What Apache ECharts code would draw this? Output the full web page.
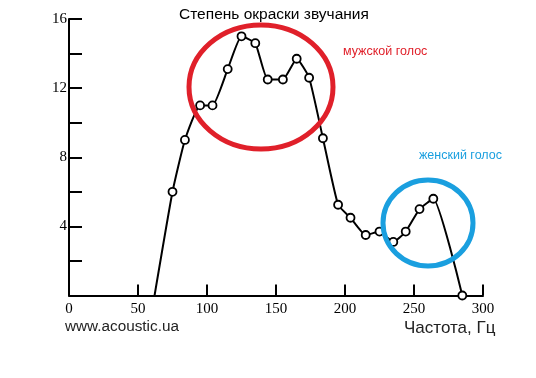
<!DOCTYPE html>
<html>
<head>
<meta charset="utf-8">
<script src="https://cdn.jsdelivr.net/npm/echarts@6/dist/echarts.min.js"></script>
<style>
  html, body { margin: 0; padding: 0; background: #fff; }
  #main { width: 536px; height: 378px; }
</style>
</head>
<body>
<div id="main"></div>
<script>
// frequency, Hz
var freq = [62, 75, 84, 95, 104, 115, 125, 135, 144, 155, 165, 174, 184, 195, 204, 215, 225, 235, 244, 254, 264, 285]
// colouring degree
var level = [0, 6, 9, 11, 11, 13.1, 15, 14.6, 12.5, 12.5, 13.7, 12.6, 9.1, 5.25, 4.5, 3.5, 3.7, 3.1, 3.7, 5, 5.6, 0]
var xTicks = [0, 50, 100, 150, 200, 250, 300]
var yLabels = [4, 8, 12, 16]

var points = freq.map(function (f, i) {
    var p = { value: [f, level[i]] }
    if (i == 0) p.symbol = 'none'   // line starts on the axis without a marker
    return p
})

var myChart = echarts.init(document.getElementById('main'))
myChart.setOption({
    animation: false,
    grid: { left: 69, top: 19, width: 414, height: 276.5 },
    xAxis: {
        type: 'value',
        min: xTicks[0],
        max: xTicks[xTicks.length - 1],
        interval: 50,
        axisLine: { show: true, lineStyle: { color: '#000', width: 2 } },
        axisTick: { show: true, inside: true, length: 11, lineStyle: { color: '#000', width: 2 } },
        axisLabel: { margin: 6, color: '#000', fontFamily: 'Liberation Serif', fontSize: 15 },
        splitLine: { show: false }
    },
    yAxis: {
        type: 'value',
        min: 0,
        max: 16,
        interval: 2,
        axisLine: { show: true, lineStyle: { color: '#000', width: 2 } },
        axisTick: { show: true, inside: true, length: 13, lineStyle: { color: '#000', width: 2 } },
        axisLabel: {
            margin: 2,
            color: '#000',
            fontFamily: 'Liberation Serif',
            fontSize: 15,
            formatter: function (v) { return yLabels.indexOf(v) >= 0 ? String(v) : '' }
        },
        splitLine: { show: false }
    },
    series: [{
        type: 'line',
        data: points,
        smooth: 0.15,
        symbol: 'circle',
        symbolSize: 8,
        itemStyle: { color: '#fff', borderColor: '#000', borderWidth: 1.8 },
        lineStyle: { color: '#000', width: 2 }
    }],
    graphic: [
        { type: 'text', left: 179, top: 7, style: { text: 'Степень окраски звучания', font: '15.5px "Liberation Sans"', fill: '#000' } },
        { type: 'text', left: 65, top: 319, style: { text: 'www.acoustic.ua', font: '15.3px "Liberation Sans"', fill: '#222' } },
        { type: 'text', left: 404, top: 320, style: { text: 'Частота, Гц', font: '17px "Liberation Sans"', fill: '#222' } },
        { type: 'text', left: 343, top: 45, style: { text: 'мужской голос', font: '12.5px "Liberation Sans"', fill: '#e0202a' } },
        { type: 'text', left: 419, top: 149, style: { text: 'женский голос', font: '12.5px "Liberation Sans"', fill: '#1a9fdf' } },
        { type: 'ellipse', shape: { cx: 261, cy: 87, rx: 72, ry: 62 }, style: { fill: 'none', stroke: '#e0202a', lineWidth: 5 }, z: 10 },
        { type: 'ellipse', shape: { cx: 428, cy: 223, rx: 45, ry: 43 }, style: { fill: 'none', stroke: '#1a9fdf', lineWidth: 5 }, z: 10 }
    ]
})
</script>
</body>
</html>
